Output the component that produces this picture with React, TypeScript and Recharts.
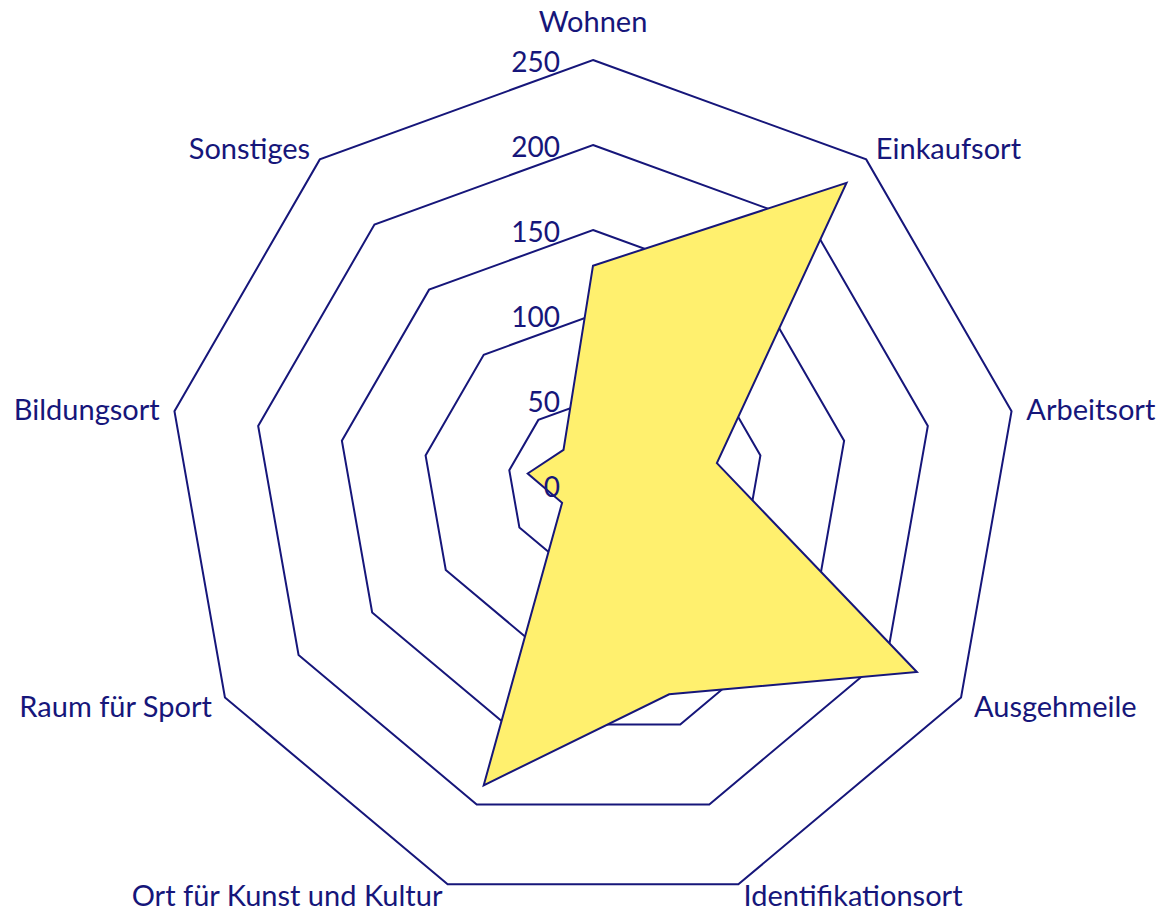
import { RadarChart, Radar, PolarGrid, PolarAngleAxis, PolarRadiusAxis } from 'recharts'

const categories = [
  'Wohnen',
  'Einkaufsort',
  'Arbeitsort',
  'Ausgehmeile',
  'Identifikationsort',
  'Ort für Kunst und Kultur',
  'Raum für Sport',
  'Bildungsort',
  'Sonstiges',
]
const counts = [129, 232, 74, 220, 131, 188, 21, 39, 27]
const radiusTicks = [0, 50, 100, 150, 200, 250]

const data = categories.map((name, i) => ({ name, value: counts[i] }))

const NAVY = '#16167a'
const CX = 593
const CY = 485
const R = 425
const FONT = 'Lato, "Open Sans", sans-serif'

function AngleTick(props: any) {
  const { x, y, payload } = props
  const a = Math.atan2(-(y - CY), x - CX)
  const c = Math.cos(a)
  const s = Math.sin(a)
  let tx = CX + (R + 15) * c
  let ty = CY - (R + 15) * s
  let anchor: 'start' | 'end' | 'middle' = 'middle'
  if (c > 0.1) anchor = 'start'
  else if (c < -0.1) anchor = 'end'
  if (anchor === 'middle' && s > 0) ty = CY - R - 40
  // bottom labels sit right at the lower edge
  if (s < -0.9) ty -= 4
  return (
    <text x={tx} y={ty} textAnchor={anchor} dominantBaseline="central" fill={NAVY} fontSize={29} fontFamily={FONT}>
      {payload.value}
    </text>
  )
}

function RadiusTick(props: any) {
  const { x, y, payload } = props
  return (
    <text x={x - 33} y={y + 1} textAnchor="end" dominantBaseline="central" fill={NAVY} fontSize={28} fontFamily={FONT}>
      {payload.value}
    </text>
  )
}

export default function App() {
  return (
    <div style={{ position: 'absolute', left: 0, top: 0, background: '#fff' }}>
      <RadarChart width={1163} height={911} data={data} cx={CX} cy={CY} outerRadius={R} margin={{ top: 0, right: 0, bottom: 0, left: 0 }}>
        <PolarGrid gridType="polygon" radialLines={false} stroke={NAVY} strokeWidth={2} strokeOpacity={1} />
        <PolarAngleAxis dataKey="name" tick={<AngleTick />} tickLine={false} axisLine={false} />
        <Radar dataKey="value" stroke={NAVY} strokeWidth={2} fill="#FFF06E" fillOpacity={1} dot={false} isAnimationActive={false} />
        <PolarRadiusAxis angle={90} domain={[0, 250]} ticks={radiusTicks} tickCount={6} tick={<RadiusTick />} axisLine={false} tickLine={false} />
      </RadarChart>
    </div>
  )
}
